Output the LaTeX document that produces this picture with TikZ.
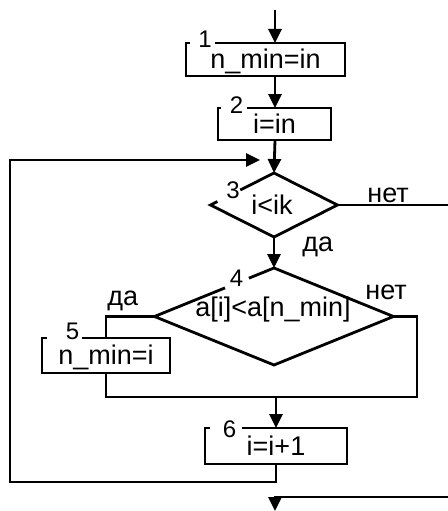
\documentclass[tikz,border=0pt]{standalone}
\usepackage{fontspec}
\setmainfont{Liberation Sans}
\usetikzlibrary{arrows.meta,calc,shapes.geometric}
\begin{document}
\begin{tikzpicture}[x=1pt,y=-1pt,
  line width=2.8pt,
  >={Triangle[length=14pt,width=13pt]},
  blk/.style={rectangle, draw=none, inner sep=0pt, outer sep=0pt, font=\fontsize{27}{31}\selectfont, text height=19.2pt, text depth=0.8pt},
  dia/.style={diamond, draw=none, inner sep=0pt, outer sep=0pt},
  txt/.style={font=\fontsize{27}{31}\selectfont, inner sep=0pt},
  num/.style={font=\fontsize{24}{27}\selectfont, inner sep=0pt}]
\useasboundingbox (0,0) rectangle (447,511);
% blocks
\node[blk, minimum width=159pt, minimum height=33pt] (b1) at (265.5,59.5) {n\_min=in};
\node[blk, minimum width=113pt, minimum height=32pt] (b2) at (274.5,124) {i=in};
\node[dia, minimum width=127pt, minimum height=64pt] (d3) at (274,205) {};
\node[txt, anchor=base] (t3) at (272,214) {i<ik};
\node[dia, minimum width=239pt, minimum height=97pt] (d4) at (274,316.5) {};
\node[txt, anchor=base] (t4) at (273,316) {a[i]<a[n\_min]};
\node[blk, minimum width=128pt, minimum height=35pt] (b5) at (106,355.5) {n\_min=i};
\node[blk, minimum width=142pt, minimum height=36pt] (b6) at (276,446) {i=i+1};
% outlines with gaps for numbers
\draw ([xshift=29pt]b1.north west) -| (b1.south east) -| (b1.north west) -- ++(4,0);
\draw ([xshift=29pt]b2.north west) -| (b2.south east) -| (b2.north west) -- ++(3,0);
\draw ([xshift=40pt]b5.north west) -| (b5.south east) -| (b5.north west) -- ++(5,0);
\draw ([xshift=37pt]b6.north west) -| (b6.south east) -| (b6.north west) -- ++(5,0);
\draw ($(d3.west)!0.47!(d3.north)$) -- (d3.north) -- (d3.east) -- (d3.south) -- (d3.west) -- ($(d3.west)!0.11!(d3.north)$);
\draw ($(d4.west)!0.79!(d4.north)$) -- (d4.north) -- (d4.east) -- (d4.south) -- (d4.west) -- ($(d4.west)!0.59!(d4.north)$);
% numbers
\node[num] (n1) at (205,39) {1};
\node[num] (n2) at (236.5,105) {2};
\node[num] (n3) at (233,190) {3};
\node[num] (n4) at (236.5,278.5) {4};
\node[num] (n5) at (72.5,331.5) {5};
\node[num] (n6) at (229.5,429) {6};
% connectors
\coordinate (top) at (275,10);
\draw[->] (top) -- (top |- b1.north);
\draw[->] (top |- b1.south) -- (top |- b2.north);
\draw[->] (top |- b2.south) -- (d3.north);
\draw[->] (d3.south) -- (d4.north);
\coordinate (r3) at (460,205);
\draw (d3.east) -- (r3);
\draw (d4.west) -| (b5.north);
\coordinate (jr) at (417,397);
\draw (d4.east) -| (jr) -| (b5.south);
\draw[->] (b6.north |- jr) -- (b6.north);
\coordinate (lb) at (10,482);
\coordinate (le) at (260,160);
\draw[->] (b6.south) |- (lb) |- (le);
\coordinate (r4) at (460,497);
\coordinate (bot) at (275,511);
\draw[->] (r4) -| (bot);
% branch labels
\node[txt, anchor=base west] (no3) at (366,202) {нет};
\node[txt, anchor=base west] (yes3) at (301,251) {да};
\node[txt, anchor=base west] (no4) at (364,299) {нет};
\node[txt, anchor=base west] (yes4) at (106,305) {да};
\end{tikzpicture}
\end{document}
